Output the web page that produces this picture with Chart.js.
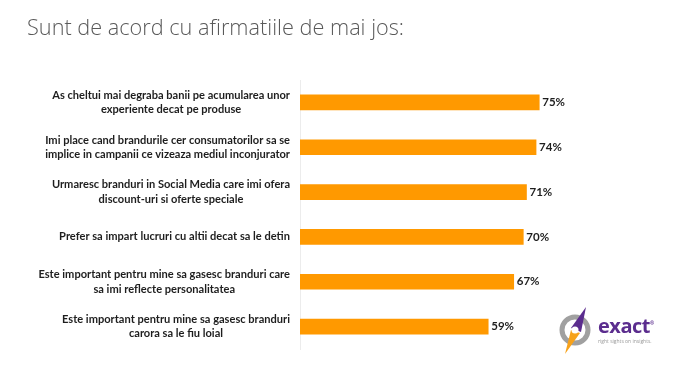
<!DOCTYPE html>
<html>
<head>
<meta charset="utf-8">
<script src="https://cdn.jsdelivr.net/npm/chart.js"></script>
<style>
  body { margin: 0; background: #fff; }
  #wrap { position: relative; width: 700px; height: 368px; overflow: hidden; }
  #titlu { position: absolute; left: 27px; top: 12px; font-family: 'Open Sans', sans-serif; font-weight: 300;
           font-size: 21.7px; color: #595959; white-space: nowrap; }
  #logo { position: absolute; left: 556px; top: 305px; width: 120px; height: 50px; }
  #logo .nume { position: absolute; left: 42px; top: 7px; font-family: 'Open Sans', sans-serif; font-weight: 700;
                font-size: 20px; color: #5b2d8e; letter-spacing: -0.5px; }
  #logo .slogan { position: absolute; left: 42px; top: 33px; font-family: 'Open Sans', sans-serif;
                  font-size: 5px; color: #999; white-space: nowrap; }
</style>
</head>
<body>
<div id="wrap">
  <div id="titlu">Sunt de acord cu afirmatiile de mai jos:</div>
  <canvas id="myChart" width="700" height="368"></canvas>
  <div id="logo">
    <svg width="40" height="50" viewBox="0 0 40 50">
      <circle cx="19" cy="25" r="13" fill="none" stroke="#a0a0a0" stroke-width="5"/>
      <polygon points="30,2 15,23 25,27" fill="#5b2d8e"/>
      <polygon points="15,25 24,28 9,49" fill="#f7a21b"/>
      <circle cx="19" cy="25" r="3.5" fill="#fff"/>
    </svg>
    <span class="nume">exact<sup style="font-size:5px">®</sup></span>
    <span class="slogan">right sights on insights.</span>
  </div>
</div>
<script>
const afirmatii = [
  ['As cheltui mai degraba banii pe acumularea unor', 'experiente decat pe produse'],
  ['Imi place cand brandurile cer consumatorilor sa se', 'implice in campanii ce vizeaza mediul inconjurator'],
  ['Urmaresc branduri in Social Media care imi ofera', 'discount-uri si oferte speciale'],
  ['Prefer sa impart lucruri cu altii decat sa le detin'],
  ['Este important pentru mine sa gasesc branduri care', 'sa imi reflecte personalitatea'],
  ['Este important pentru mine sa gasesc branduri', 'carora sa le fiu loial']
];
const procente = [75, 74, 71, 70, 67, 59];

// etichete pe axa y: bloc aliniat la dreapta, randuri centrate in bloc
const eticheteY = {
  id: 'eticheteY',
  afterDraw(chart) {
    const ctx = chart.ctx;
    const y = chart.scales.y;
    ctx.save();
    // marimea fontului aleasa ca randul cel mai lung sa aiba ~245px
    ctx.font = 'bold 10px Lato, sans-serif';
    const lung = ctx.measureText(afirmatii[1][1]).width;
    const size = 10 * 245 / lung;
    ctx.font = 'bold ' + size.toFixed(2) + 'px Lato, sans-serif';
    ctx.fillStyle = '#1e1e1e';
    ctx.textAlign = 'center';
    ctx.textBaseline = 'middle';
    afirmatii.forEach((rows, i) => {
      const py = y.getPixelForTick(i);
      const w = Math.max(...rows.map(r => ctx.measureText(r).width));
      const cx = 290 - w / 2;
      rows.forEach((r, k) => {
        ctx.fillText(r, cx, py + (k - (rows.length - 1) / 2) * 14.5);
      });
    });
    ctx.restore();
  }
};

// valori la capatul barelor
const valori = {
  id: 'valori',
  afterDatasetsDraw(chart) {
    const ctx = chart.ctx;
    const meta = chart.getDatasetMeta(0);
    ctx.save();
    ctx.font = 'bold 11.5px Lato, sans-serif';
    ctx.fillStyle = '#1e1e1e';
    ctx.textBaseline = 'middle';
    meta.data.forEach((bar, i) => {
      ctx.fillText(procente[i] + '%', bar.x + 3, bar.y);
    });
    ctx.restore();
  }
};

var ctx = document.getElementById('myChart').getContext('2d');
var myChart = new Chart(ctx, {
  type: 'bar',
  data: {
    labels: afirmatii,
    datasets: [{
      data: procente,
      backgroundColor: '#ff9900',
      barThickness: 15
    }]
  },
  options: {
    indexAxis: 'y',
    responsive: false,
    animation: false,
    layout: { padding: { top: 80, bottom: 19, left: 0, right: 81 } },
    plugins: { legend: { display: false }, tooltip: { enabled: false } },
    scales: {
      x: { display: false, min: 0, max: 100 },
      y: {
        grid: { display: false },
        border: { color: '#ececec' },
        ticks: { display: false },
        afterFit(scale) { scale.width = 300; }
      }
    }
  },
  plugins: [eticheteY, valori]
});
</script>
</body>
</html>
